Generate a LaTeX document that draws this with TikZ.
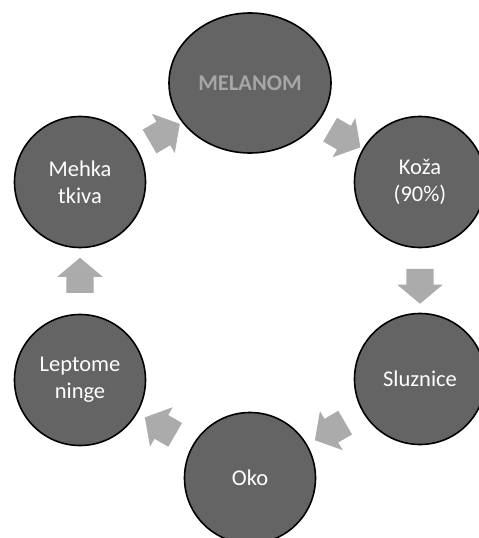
\documentclass[tikz,border=0pt]{standalone}
\usepackage{fontspec}
\setmainfont{Carlito}
\usepackage{xcolor}
\usetikzlibrary{shapes.geometric,shapes.arrows}

\definecolor{krogsiva}{HTML}{646464}
\definecolor{puscsiva}{HTML}{ABABAB}
\definecolor{napissiva}{HTML}{A6A6A6}

\begin{document}
\begin{tikzpicture}[x=1pt,y=-1pt,
  krogec/.style={circle,draw=black,line width=1.6pt,fill=krogsiva,minimum size=131pt,
    inner sep=0pt,align=center,text=white,font=\fontsize{22.5}{27}\selectfont},
  puscica/.style={single arrow,fill=puscsiva,inner sep=0pt,text height=27pt,text depth=0pt,
    minimum height=35pt,single arrow head extend=9pt,single arrow tip angle=100,
    sloped,allow upside down}]
\useasboundingbox (0,0) rectangle (479,538);

% krogi
\node[krogec,ellipse,minimum width=162pt,minimum height=140pt,text=napissiva,
  font=\fontsize{22.5}{27}\selectfont\bfseries] (melanom) at (250,83) {MELANOM};
\node[krogec] (koza) at (420,182) {Koža\\(90\%)};
\node[krogec] (sluznice) at (420,379) {Sluznice};
\node[krogec] (oko) at (250,478) {Oko};
\node[krogec] (leptomeninge) at (80,380) {Leptome\\ninge};
\node[krogec] (mehka) at (80,182) {Mehka\\tkiva};

% puscice
\path (melanom) -- node[puscica] {} (koza);
\path (koza) -- node[puscica] {} (sluznice);
\path (sluznice) -- node[puscica] {} (oko);
\path (oko) -- node[puscica] {} (leptomeninge);
\path (leptomeninge) -- node[puscica] {} (mehka);
\path (mehka) -- node[puscica] {} (melanom);
\end{tikzpicture}
\end{document}
